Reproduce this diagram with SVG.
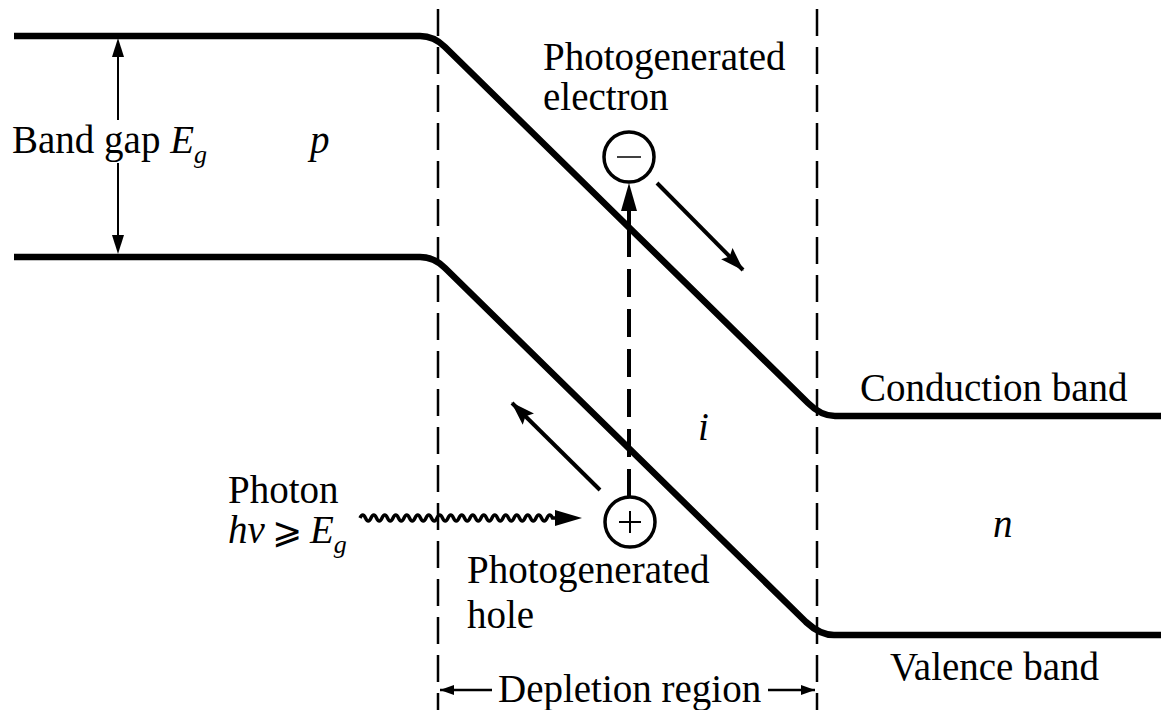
<svg xmlns="http://www.w3.org/2000/svg" width="1161" height="710" viewBox="0 0 1161 710">
<style>
.t{font-family:"Liberation Serif","Times New Roman",serif;font-size:39px;fill:#000}
.it{font-style:italic}
.band{fill:none;stroke:#000;stroke-width:6.5;stroke-linejoin:round}
.dash{stroke:#000;stroke-width:2.5;stroke-dasharray:27 11;fill:none}
.arr{stroke:#000;stroke-width:4;fill:none}
.thin{stroke:#000;stroke-width:2;fill:none}
.head{fill:#000;stroke:none}
</style>
<defs>
<marker id="big" markerUnits="userSpaceOnUse" viewBox="0 0 24 16" markerWidth="24" markerHeight="16" refX="23" refY="8" orient="auto">
<path d="M0,0 L24,8 L0,16 L4,8 z" fill="#000"/>
</marker>
<marker id="small" markerUnits="userSpaceOnUse" viewBox="0 0 14 10" markerWidth="14" markerHeight="10" refX="14" refY="5" orient="auto">
<path d="M0,0 L14,5 L0,10 z" fill="#000"/>
</marker>
</defs>
<rect width="1161" height="710" fill="#fff"/>

<g id="bands">
<path id="conduction" class="band" d="M14 36 H420 Q434 36 445 47 L808 403 Q821 416 835 416 H1161"/>
<path id="valence" class="band" d="M14 257 H420 Q434 257 445 268 L806 622 Q820 635 834 635 H1161"/>
</g>

<g id="boundaries">
<line class="dash" x1="438" y1="9" x2="438" y2="710"/>
<line class="dash" x1="817" y1="9" x2="817" y2="710"/>
</g>

<g id="connectors">
<line class="thin" x1="118" y1="52" x2="118" y2="120"/>
<line class="thin" x1="118" y1="163" x2="118" y2="240"/>
<polygon class="head" points="118,38 124,57 112,57"/>
<polygon class="head" points="118,254 124,235 112,235"/>
<line class="arr" x1="629" y1="497" x2="629" y2="210" style="stroke-dasharray:28 12"/>
<line class="arr" x1="629" y1="230" x2="629" y2="205"/>
<polygon class="head" points="629,183 637,211 621,211"/>
<line class="arr" x1="657" y1="183" x2="743" y2="270" marker-end="url(#big)"/>
<line class="arr" x1="600" y1="490" x2="512" y2="403" marker-end="url(#big)"/>
<path class="arr" style="stroke-width:3.5" d="M360 518 q2.75 -6 5.5 0 t5.5 0 t5.5 0 t5.5 0 t5.5 0 t5.5 0 t5.5 0 t5.5 0 t5.5 0 t5.5 0 t5.5 0 t5.5 0 t5.5 0 t5.5 0 t5.5 0 t5.5 0 t5.5 0 t5.5 0 t5.5 0 t5.5 0 t5.5 0 t5.5 0 t5.5 0 t5.5 0 t5.5 0 t5.5 0 t5.5 0 t5.5 0 t5.5 0 t5.5 0 t5.5 0 t5.5 0 t5.5 0 t5.5 0 t5.5 0 l6 0"/>
<polygon class="head" points="582,518 555,510 555,526"/>
<line class="thin" style="stroke-width:2.5" x1="492" y1="690" x2="440" y2="690" marker-end="url(#small)"/>
<line class="thin" style="stroke-width:2.5" x1="768" y1="690" x2="815" y2="690" marker-end="url(#small)"/>
</g>

<g id="electron">
<circle cx="629" cy="157" r="25" fill="#fff" stroke="#000" stroke-width="3.5"/>
<line x1="617" y1="157" x2="641" y2="157" stroke="#000" stroke-width="1.5"/>
</g>
<g id="hole">
<circle cx="630" cy="522" r="25" fill="#fff" stroke="#000" stroke-width="3.5"/>
<line x1="619" y1="522" x2="641" y2="522" stroke="#000" stroke-width="2"/>
<line x1="630" y1="511" x2="630" y2="533" stroke="#000" stroke-width="2"/>
</g>

<g id="labels">
<text class="t" x="12" y="153">Band gap <tspan class="it">E</tspan><tspan class="it" font-size="26" dy="10">g</tspan></text>
<text class="t it" x="310" y="153">p</text>
<text class="t" x="543" y="70">Photogenerated</text>
<text class="t" x="543" y="110">electron</text>
<text class="t it" x="698" y="440">i</text>
<text class="t" x="860" y="401">Conduction band</text>
<text class="t it" x="993" y="537">n</text>
<text class="t" x="890" y="680">Valence band</text>
<text class="t" x="228" y="503">Photon</text>
<text class="t" y="543"><tspan class="it" x="228">hν</tspan><tspan x="272" font-family="'DejaVu Serif','DejaVu Sans',serif" font-size="36">⩾</tspan><tspan class="it" x="310">E</tspan><tspan class="it" font-size="26" dy="10">g</tspan></text>
<text class="t" x="467" y="583">Photogenerated</text>
<text class="t" x="467" y="628">hole</text>
<text class="t" x="498" y="702">Depletion region</text>
</g>
</svg>
